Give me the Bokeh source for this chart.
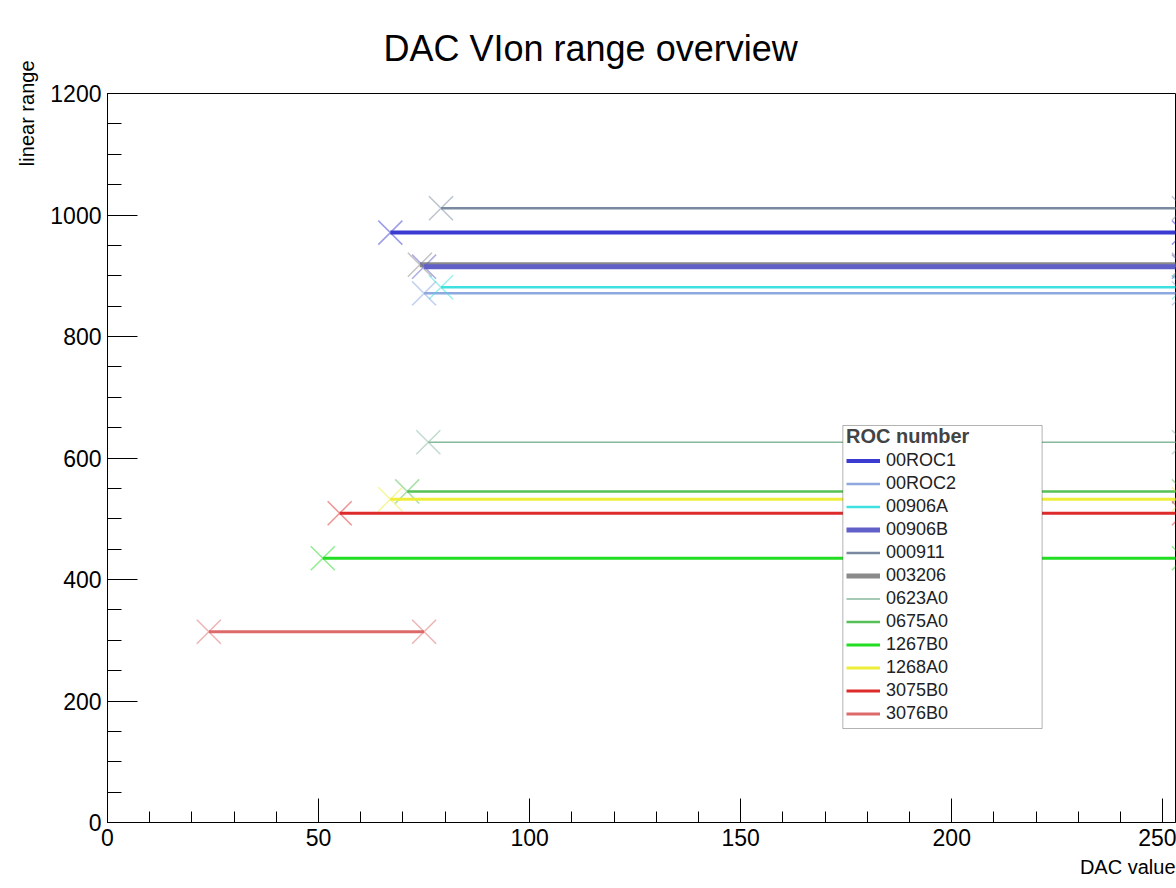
from bokeh.plotting import figure
from bokeh.models import (Range1d, SingleIntervalTicker, Legend, LegendItem,
                          BoxAnnotation, Title)
from bokeh.embed import file_html
from bokeh.resources import INLINE

# ---- data ----
roc_names = ["00ROC1", "00ROC2", "00906A", "00906B", "000911", "003206",
             "0623A0", "0675A0", "1267B0", "1268A0", "3075B0", "3076B0"]
range_start = [67, 75, 79, 75, 79, 74, 76, 71, 51, 67, 55, 24]
range_end = [255, 255, 255, 255, 255, 255, 255, 255, 255, 255, 255, 75]
linear_range = [971, 871, 881, 915, 1011, 918, 626, 545, 435, 532, 509, 314]

# ---- styles ----
colors = ["#3b3bd2", "#8ea8e0", "#3ee0e0", "#6060c8", "#7a8aa0", "#8a8a8a",
          "#86b89c", "#55c055", "#22dd22", "#eeee3a", "#dd2a2a", "#dd6a6a"]
widths = [4, 2.5, 2.5, 5, 2.5, 5, 1.5, 2.5, 3, 3, 3, 3]
draw_order = [5, 0, 1, 2, 3, 4, 6, 7, 8, 9, 10, 11]

FONT = "Liberation Sans"

p = figure(width=1176, height=888, output_backend="svg", toolbar_location=None,
           x_range=Range1d(0, 253), y_range=Range1d(0, 1200),
           min_border_left=107, min_border_right=1, min_border_top=93,
           min_border_bottom=66)
p.background_fill_color = "white"
p.border_fill_color = "white"
p.outline_line_color = "black"
p.outline_line_width = 1
p.xgrid.visible = False
p.ygrid.visible = False

renderers = {}
for i in draw_order:
    xs = [range_start[i], range_end[i]]
    ys = [linear_range[i], linear_range[i]]
    r = p.line(xs, ys, line_color=colors[i], line_width=widths[i])
    renderers[i] = r
    p.scatter(xs, ys, marker="x", size=34, line_color=colors[i],
              line_width=1.5, line_alpha=0.5)

# axes
p.xaxis.ticker = SingleIntervalTicker(interval=50, num_minor_ticks=5)
p.yaxis.ticker = SingleIntervalTicker(interval=200, num_minor_ticks=4)
for ax in (p.xaxis[0], p.yaxis[0]):
    ax.axis_line_color = "black"
    ax.major_tick_line_color = "black"
    ax.minor_tick_line_color = "black"
    ax.major_tick_out = 0
    ax.minor_tick_out = 0
    ax.major_label_text_font = FONT
    ax.major_label_text_font_size = "23px"
    ax.major_label_text_color = "black"
p.xaxis.major_tick_in = 24
p.xaxis.minor_tick_in = 11
p.yaxis.major_tick_in = 30
p.yaxis.minor_tick_in = 14
p.xaxis.major_label_standoff = 6
p.yaxis.major_label_standoff = 6

# titles
p.title.text = "DAC VIon range overview"
p.title.text_font = FONT
p.title.text_font_size = "36px"
p.title.text_font_style = "normal"
p.title.text_color = "black"
p.title.align = "left"
p.title.offset = 276
p.title.standoff = 50

p.add_layout(Title(text="linear range", text_font=FONT, text_font_size="20px",
                   text_font_style="normal", text_color="black",
                   align="right", offset=-33, standoff=20), "left")
p.add_layout(Title(text="DAC value", text_font=FONT, text_font_size="20px",
                   text_font_style="normal", text_color="black",
                   align="right", offset=0, standoff=10), "below")

# legend box
p.add_layout(BoxAnnotation(left=174.2, right=221.4, bottom=154.7, top=653.5,
                           fill_color="white", fill_alpha=1.0,
                           line_color="black", line_width=1))

legend = Legend(items=[LegendItem(label=roc_names[i], renderers=[renderers[i]])
                       for i in range(len(roc_names))],
                location=(736, 94), title="ROC number",
                title_text_font=FONT, title_text_font_style="bold",
                title_text_font_size="20px", title_standoff=1,
                label_text_font=FONT, label_text_font_size="18px",
                label_text_color="#222222",
                label_height=23, glyph_height=23, glyph_width=34,
                label_standoff=6, spacing=0, padding=3, margin=0,
                background_fill_alpha=0, border_line_alpha=0)
p.add_layout(legend, "center")

open("out.html", "w").write(file_html(p, INLINE))
